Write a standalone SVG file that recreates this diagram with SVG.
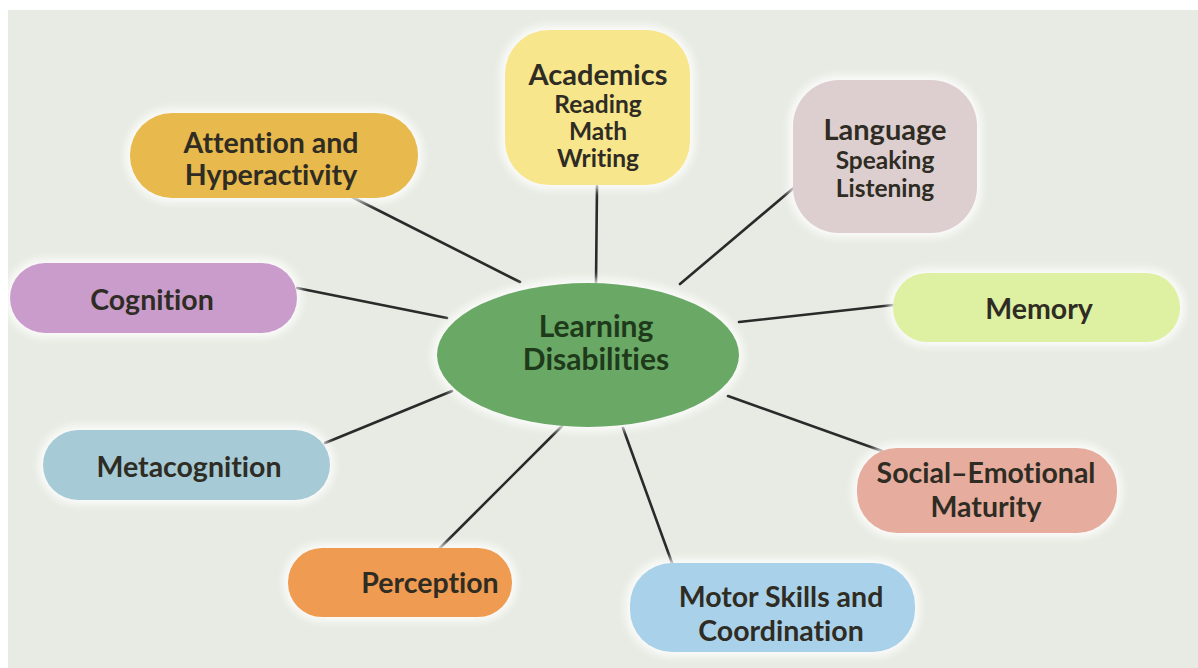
<svg xmlns="http://www.w3.org/2000/svg" width="1198" height="668" viewBox="0 0 1198 668">
  <defs>
    <filter id="halo" x="-20%" y="-30%" width="140%" height="160%">
      <feGaussianBlur stdDeviation="4"/>
    </filter>
    <style>
      .lbl { font-family: Lato, "Open Sans", "Liberation Sans", sans-serif; font-weight: 700; fill: #2f2c24; text-anchor: middle; font-variant-ligatures: none; }
      .hub { font-size: 30px; fill: #1e3a1b; }
      .big { font-size: 29px; }
      .mid { font-size: 28.5px; }
      .sub { font-size: 24.5px; }
      .glow { fill: #ffffff; stroke: #ffffff; stroke-width: 8; filter: url(#halo); opacity: 0.9; }
      .edge { stroke: #2a2a2a; stroke-width: 2.6; stroke-linecap: round; fill: none; }
    </style>
  </defs>

  <!-- page -->
  <rect x="0" y="0" width="1198" height="668" fill="#ffffff"/>
  <rect x="8" y="10" width="1190" height="658" fill="#e8ebe3"/>

  <!-- connectors -->
  <g id="connectors">
    <line class="edge" x1="352" y1="197" x2="520" y2="282"/>
    <line class="edge" x1="597" y1="186" x2="596" y2="283"/>
    <line class="edge" x1="796" y1="186" x2="680" y2="284"/>
    <line class="edge" x1="893" y1="305" x2="739" y2="322"/>
    <line class="edge" x1="297" y1="288" x2="447" y2="318"/>
    <line class="edge" x1="325" y1="443" x2="452" y2="391"/>
    <line class="edge" x1="440" y1="548" x2="562" y2="426"/>
    <line class="edge" x1="672" y1="563" x2="623" y2="428"/>
    <line class="edge" x1="882" y1="451" x2="728" y2="396"/>
  </g>

  <!-- hub -->
  <g id="learning-disabilities">
    <ellipse class="glow" cx="588" cy="355" rx="151" ry="72"/>
    <ellipse cx="588" cy="355" rx="151" ry="72" fill="#69a865"/>
    <text class="lbl hub" x="596" y="337">Learning</text>
    <text class="lbl hub" x="596" y="370">Disabilities</text>
  </g>

  <g id="attention">
    <rect class="glow" x="130" y="113" width="288" height="85" rx="42"/>
    <rect x="130" y="113" width="288" height="85" rx="42" fill="#e8b94c"/>
    <text class="lbl mid" x="271" y="153">Attention and</text>
    <text class="lbl mid" x="271" y="185">Hyperactivity</text>
  </g>

  <g id="academics">
    <rect class="glow" x="505" y="30" width="185" height="155" rx="44"/>
    <rect x="505" y="30" width="185" height="155" rx="44" fill="#f7e68c"/>
    <text class="lbl big" x="598" y="85">Academics</text>
    <text class="lbl sub" x="598" y="113">Reading</text>
    <text class="lbl sub" x="598" y="140">Math</text>
    <text class="lbl sub" x="598" y="167">Writing</text>
  </g>

  <g id="language">
    <rect class="glow" x="793" y="80" width="184" height="153" rx="46"/>
    <rect x="793" y="80" width="184" height="153" rx="46" fill="#ddcfcf"/>
    <text class="lbl big" x="885" y="140">Language</text>
    <text class="lbl sub" x="885" y="169">Speaking</text>
    <text class="lbl sub" x="885" y="197">Listening</text>
  </g>

  <g id="memory">
    <rect class="glow" x="893" y="273" width="287" height="69" rx="34"/>
    <rect x="893" y="273" width="287" height="69" rx="34" fill="#def0a2"/>
    <text class="lbl mid" x="1039" y="319">Memory</text>
  </g>

  <g id="cognition">
    <rect class="glow" x="10" y="263" width="287" height="70" rx="35"/>
    <rect x="10" y="263" width="287" height="70" rx="35" fill="#c99ccc"/>
    <text class="lbl mid" x="152" y="310">Cognition</text>
  </g>

  <g id="metacognition">
    <rect class="glow" x="43" y="430" width="287" height="70" rx="35"/>
    <rect x="43" y="430" width="287" height="70" rx="35" fill="#a6cad6"/>
    <text class="lbl mid" x="189" y="477">Metacognition</text>
  </g>

  <g id="perception">
    <rect class="glow" x="288" y="548" width="224" height="69" rx="34"/>
    <rect x="288" y="548" width="224" height="69" rx="34" fill="#ef9c52"/>
    <text class="lbl mid" x="430" y="593">Perception</text>
  </g>

  <g id="motor-skills">
    <rect class="glow" x="630" y="563" width="285" height="89" rx="42"/>
    <rect x="630" y="563" width="285" height="89" rx="42" fill="#a9d2ea"/>
    <text class="lbl mid" x="781" y="607">Motor Skills and</text>
    <text class="lbl mid" x="781" y="641">Coordination</text>
  </g>

  <g id="social-emotional">
    <rect class="glow" x="857" y="448" width="260" height="85" rx="40"/>
    <rect x="857" y="448" width="260" height="85" rx="40" fill="#e6ad9e"/>
    <text class="lbl mid" x="986" y="483">Social–Emotional</text>
    <text class="lbl mid" x="986" y="517">Maturity</text>
  </g>
</svg>
